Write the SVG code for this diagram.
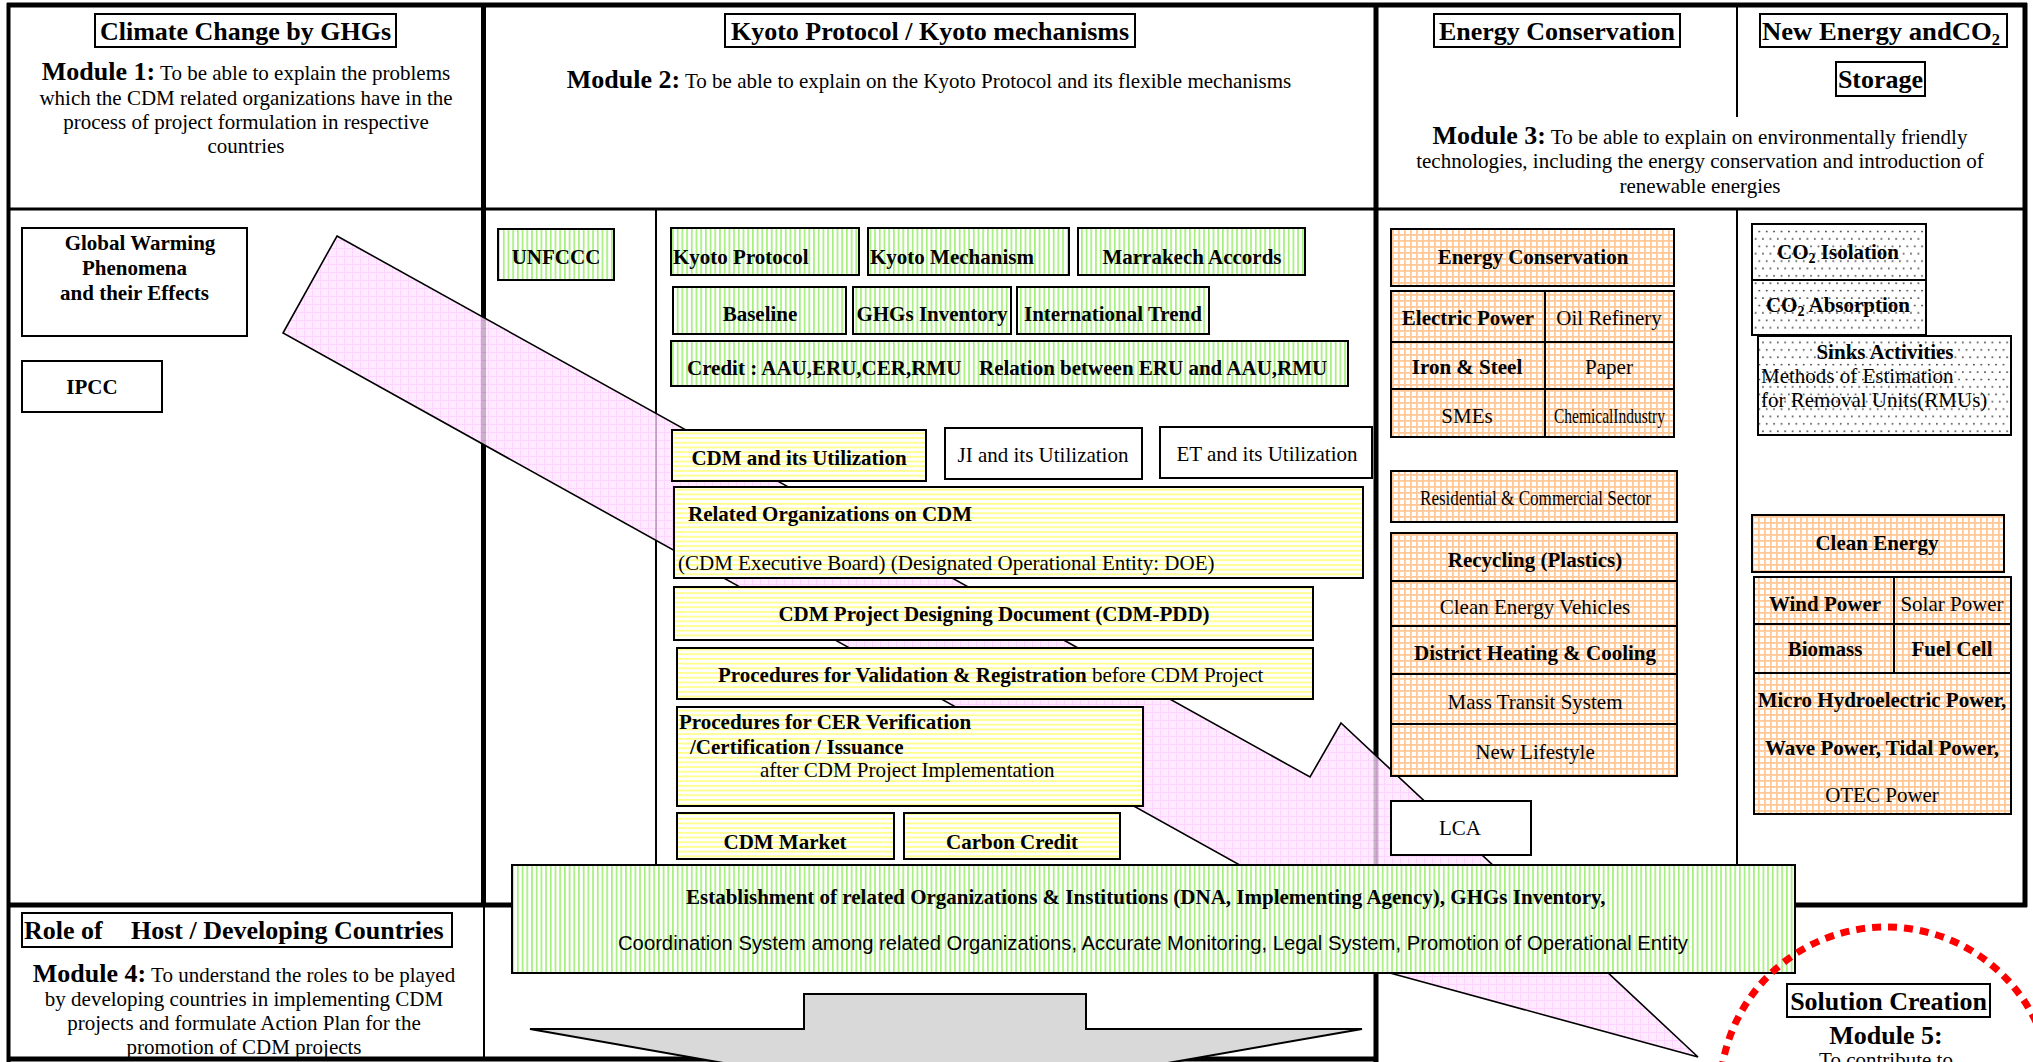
<svg xmlns="http://www.w3.org/2000/svg" width="2033" height="1062" viewBox="0 0 2033 1062">
<defs>
<style>
.b{font-family:"Liberation Serif",serif;font-weight:bold;font-size:21px;fill:#000}
.n{font-family:"Liberation Serif",serif;font-weight:normal;font-size:21px;fill:#000}
.t{font-family:"Liberation Serif",serif;font-weight:bold;font-size:26px;fill:#000}
.s{font-family:"Liberation Sans",sans-serif;font-weight:normal;font-size:20px;fill:#000}
.mid{text-anchor:middle}
.bx{stroke:#000;stroke-width:2}
.fr{stroke:#000;fill:none}
</style>
<pattern id="pGreen" width="4.7" height="10" patternUnits="userSpaceOnUse">
<rect width="4.7" height="10" fill="#fff"/>
<rect x="0" y="0" width="1.7" height="10" fill="#a4f07a"/>
</pattern>
<pattern id="pYellow" width="10" height="4.7" patternUnits="userSpaceOnUse">
<rect width="10" height="4.7" fill="#fff"/>
<rect x="0" y="0" width="10" height="1.8" fill="#ffff8c"/>
</pattern>
<pattern id="pOrange" width="6" height="6" patternUnits="userSpaceOnUse">
<rect width="6" height="6" fill="#ffc896"/>
<rect x="1.8" y="1.8" width="4.2" height="4.2" fill="#fff"/>
</pattern>
<pattern id="pPink" width="8" height="8" patternUnits="userSpaceOnUse">
<rect width="8" height="8" fill="#ffe4ff"/>
<path d="M0 0.5H8M0.5 0V8" stroke="#ffc6ff" stroke-width="1"/>
</pattern>
<pattern id="pDots" width="7.4" height="14.8" patternUnits="userSpaceOnUse">
<rect width="7.4" height="14.8" fill="#fff"/>
<circle cx="1.8" cy="2" r="0.85" fill="#222"/>
<circle cx="5.5" cy="9.4" r="0.85" fill="#222"/>
</pattern>
</defs>
<rect width="2033" height="1062" fill="#fff"/>

<g id="frame">
<line class="fr" x1="7" y1="5" x2="2027" y2="5" stroke-width="5"/>
<line class="fr" x1="8.5" y1="3" x2="8.5" y2="1062" stroke-width="4"/>
<line class="fr" x1="7" y1="1059" x2="1378" y2="1059" stroke-width="5"/>
<line class="fr" x1="483.5" y1="3" x2="483.5" y2="907" stroke-width="5"/>
<line class="fr" x1="484" y1="905" x2="484" y2="1060" stroke-width="2"/>
<line class="fr" x1="7" y1="905" x2="512" y2="905" stroke-width="5"/>
<line class="fr" x1="1376" y1="3" x2="1376" y2="1062" stroke-width="5"/>
<line class="fr" x1="2025" y1="3" x2="2025" y2="907" stroke-width="5"/>
<line class="fr" x1="1376" y1="905" x2="2027" y2="905" stroke-width="5"/>
<line class="fr" x1="7" y1="209" x2="2027" y2="209" stroke-width="3"/>
<line class="fr" x1="656" y1="209" x2="656" y2="865" stroke-width="2"/>
<line class="fr" x1="1737" y1="5" x2="1737" y2="117" stroke-width="2"/>
<line class="fr" x1="1737" y1="209" x2="1737" y2="905" stroke-width="2"/>
</g>

<g id="connectors">
<polygon id="pink-arrow" points="337,236 1310,777 1341,723 1698,1057 1225,928 1256,874 283,333" fill="url(#pPink)" fill-opacity="0.78" stroke="#000" stroke-width="1.6"/>
</g>

<g id="module1">
<rect x="95" y="14" width="301" height="33" fill="#fff" class="bx"/>
<text class="t mid" x="245.5" y="40">Climate Change by GHGs</text>
<text class="n mid" x="246" y="80"><tspan class="t">Module 1:</tspan> To be able to explain the problems</text>
<text class="n mid" x="246" y="105">which the CDM related organizations have in the</text>
<text class="n mid" x="246" y="129">process of project formulation in respective</text>
<text class="n mid" x="246" y="153">countries</text>
</g>

<g id="global-warming">
<rect x="22" y="228" width="225" height="108" fill="#fff" class="bx"/>
<text class="b mid" x="140" y="250">Global Warming</text>
<text class="b mid" x="134.5" y="275">Phenomena</text>
<text class="b mid" x="134.5" y="300">and their Effects</text>
</g>
<g id="ipcc">
<rect x="22" y="361" width="140" height="51" fill="#fff" class="bx"/>
<text class="b mid" x="92" y="394">IPCC</text>
</g>

<g id="module2">
<rect x="725" y="14" width="410" height="33" fill="#fff" class="bx"/>
<text class="t mid" x="930" y="40">Kyoto Protocol / Kyoto mechanisms</text>
<text class="n mid" x="929" y="88"><tspan class="t">Module 2:</tspan> To be able to explain on the Kyoto Protocol and its flexible mechanisms</text>
</g>

<g id="unfccc"><rect x="498" y="229" width="116" height="51" fill="url(#pGreen)" class="bx"/><text class="b mid" x="556" y="264">UNFCCC</text></g>
<g id="kyoto-protocol"><rect x="671" y="228" width="188" height="47" fill="url(#pGreen)" class="bx"/><text class="b" x="673" y="264">Kyoto Protocol</text></g>
<g id="kyoto-mechanism"><rect x="868" y="228" width="201" height="47" fill="url(#pGreen)" class="bx"/><text class="b" x="870" y="264">Kyoto Mechanism</text></g>
<g id="marrakech"><rect x="1078" y="228" width="227" height="47" fill="url(#pGreen)" class="bx"/><text class="b mid" x="1192" y="264">Marrakech Accords</text></g>
<g id="baseline"><rect x="673" y="287" width="173" height="47" fill="url(#pGreen)" class="bx"/><text class="b mid" x="760" y="321">Baseline</text></g>
<g id="ghgs-inventory"><rect x="853" y="287" width="158" height="47" fill="url(#pGreen)" class="bx"/><text class="b mid" x="932" y="321">GHGs Inventory</text></g>
<g id="international-trend"><rect x="1017" y="287" width="192" height="47" fill="url(#pGreen)" class="bx"/><text class="b mid" x="1113" y="321">International Trend</text></g>
<g id="credit"><rect x="671" y="341" width="677" height="45" fill="url(#pGreen)" class="bx"/><text class="b" y="375"><tspan x="687">Credit : AAU,ERU,CER,RMU</tspan><tspan x="979">Relation between ERU and AAU,RMU</tspan></text></g>

<g id="cdm-utilization"><rect x="672" y="430" width="254" height="51" fill="url(#pYellow)" class="bx"/><text class="b mid" x="799" y="465">CDM and its Utilization</text></g>
<g id="ji-utilization"><rect x="945" y="428" width="197" height="51" fill="#fff" class="bx"/><text class="n mid" x="1043" y="462">JI and its Utilization</text></g>
<g id="et-utilization"><rect x="1160" y="427" width="212" height="51" fill="#fff" class="bx"/><text class="n mid" x="1267" y="461">ET and its Utilization</text></g>
<g id="related-orgs"><rect x="674" y="487" width="689" height="91" fill="url(#pYellow)" class="bx"/>
<text class="b" x="688" y="521">Related Organizations on CDM</text>
<text class="n" x="678" y="570">(CDM Executive Board) (Designated Operational Entity: DOE)</text></g>
<g id="cdm-pdd"><rect x="674" y="587" width="639" height="53" fill="url(#pYellow)" class="bx"/><text class="b mid" x="994" y="621">CDM Project Designing Document (CDM-PDD)</text></g>
<g id="validation"><rect x="677" y="648" width="636" height="51" fill="url(#pYellow)" class="bx"/><text class="b" x="718" y="682">Procedures for Validation &amp; Registration<tspan class="n"> before CDM Project</tspan></text></g>
<g id="cer"><rect x="677" y="707" width="466" height="99" fill="url(#pYellow)" class="bx"/>
<text class="b" x="679" y="729">Procedures for CER Verification</text>
<text class="b" x="690" y="754">/Certification / Issuance</text>
<text class="n" x="760" y="777">after CDM Project Implementation</text></g>
<g id="cdm-market"><rect x="677" y="813" width="217" height="46" fill="url(#pYellow)" class="bx"/><text class="b mid" x="785" y="849">CDM Market</text></g>
<g id="carbon-credit"><rect x="904" y="813" width="216" height="46" fill="url(#pYellow)" class="bx"/><text class="b mid" x="1012" y="849">Carbon Credit</text></g>

<g id="module3">
<rect x="1434" y="14" width="246" height="33" fill="#fff" class="bx"/>
<text class="t mid" x="1557" y="40">Energy Conservation</text>
<rect x="1760" y="14" width="247" height="33" fill="#fff" class="bx"/>
<text class="t" x="1762" y="40" textLength="238" lengthAdjust="spacingAndGlyphs">New Energy andCO<tspan font-size="16" dy="5">2</tspan></text>
<rect x="1836" y="62" width="89" height="34" fill="#fff" class="bx"/>
<text class="t mid" x="1880.5" y="88">Storage</text>
<text class="n mid" x="1700" y="144"><tspan class="t">Module 3:</tspan> To be able to explain on environmentally friendly</text>
<text class="n mid" x="1700" y="168">technologies, including the energy conservation and introduction of</text>
<text class="n mid" x="1700" y="193">renewable energies</text>
</g>

<g id="energy-conservation"><rect x="1391" y="229" width="283" height="57" fill="url(#pOrange)" class="bx"/><text class="b mid" x="1533" y="264">Energy Conservation</text></g>
<g id="industry-grid">
<rect x="1391" y="291" width="283" height="146" fill="url(#pOrange)" class="bx"/>
<path d="M1545 291V437M1391 342H1674M1391 389H1674" class="fr" stroke-width="2"/>
<text class="b mid" x="1468" y="325">Electric Power</text>
<text class="n mid" x="1609" y="325">Oil Refinery</text>
<text class="b mid" x="1467" y="374">Iron &amp; Steel</text>
<text class="n mid" x="1609" y="374">Paper</text>
<text class="n mid" x="1467" y="423">SMEs</text>
<text class="n" x="1554" y="423" textLength="111" lengthAdjust="spacingAndGlyphs">ChemicalIndustry</text>
</g>
<g id="residential"><rect x="1391" y="471" width="286" height="51" fill="url(#pOrange)" class="bx"/><text class="n" x="1420" y="505" textLength="231" lengthAdjust="spacingAndGlyphs">Residential &amp; Commercial Sector</text></g>
<g id="demand-stack">
<rect x="1391" y="533" width="286" height="243" fill="url(#pOrange)" class="bx"/>
<path d="M1391 581H1677M1391 626H1677M1391 674H1677M1391 724H1677" class="fr" stroke-width="2"/>
<text class="b mid" x="1535" y="567">Recycling (Plastics)</text>
<text class="n mid" x="1535" y="614">Clean Energy Vehicles</text>
<text class="b mid" x="1535" y="660">District Heating &amp; Cooling</text>
<text class="n mid" x="1535" y="709">Mass Transit System</text>
<text class="n mid" x="1535" y="759">New Lifestyle</text>
</g>
<g id="lca"><rect x="1391" y="801" width="140" height="54" fill="#fff" class="bx"/><text class="n mid" x="1460" y="835">LCA</text></g>

<g id="co2-isolation"><rect x="1752" y="224" width="174" height="56" fill="url(#pDots)" class="bx"/><text class="b mid" x="1838" y="259">CO<tspan font-size="14" dy="4">2</tspan><tspan dy="-4"> Isolation</tspan></text></g>
<g id="co2-absorption"><rect x="1752" y="280" width="174" height="55" fill="url(#pDots)" class="bx"/><text class="b mid" x="1838" y="312">CO<tspan font-size="14" dy="4">2</tspan><tspan dy="-4"> Absorption</tspan></text></g>
<g id="sinks"><rect x="1758" y="336" width="253" height="99" fill="url(#pDots)" class="bx"/>
<text class="b mid" x="1885" y="359">Sinks Activities</text>
<text class="n" x="1761" y="383">Methods of Estimation</text>
<text class="n" x="1761" y="407">for Removal Units(RMUs)</text></g>
<g id="clean-energy"><rect x="1752" y="515" width="252" height="57" fill="url(#pOrange)" class="bx"/><text class="b mid" x="1877" y="550">Clean Energy</text></g>
<g id="renewables-grid">
<rect x="1754" y="577" width="257" height="237" fill="url(#pOrange)" class="bx"/>
<path d="M1894 577V673M1754 624H2011M1754 673H2011" class="fr" stroke-width="2"/>
<text class="b mid" x="1825" y="611">Wind Power</text>
<text class="n mid" x="1952" y="611">Solar Power</text>
<text class="b mid" x="1825" y="656">Biomass</text>
<text class="b mid" x="1952" y="656">Fuel Cell</text>
<text class="b mid" x="1882" y="707">Micro Hydroelectric Power,</text>
<text class="b mid" x="1882" y="755">Wave Power, Tidal Power,</text>
<text class="n mid" x="1882" y="802">OTEC Power</text>
</g>

<g id="establishment">
<rect x="512" y="865" width="1283" height="108" fill="url(#pGreen)" class="bx"/>
<text class="b" x="686" y="904">Establishment of related Organizations &amp; Institutions (DNA, Implementing Agency), GHGs Inventory,</text>
<text class="s" x="618" y="950" textLength="1070" lengthAdjust="spacingAndGlyphs">Coordination System among related Organizations, Accurate Monitoring, Legal System, Promotion of Operational Entity</text>
</g>

<g id="gray-arrow">
<polygon points="804,994 1086,994 1086,1029 1362,1029 945,1102 530,1029 804,1029" fill="#d9d9d9" stroke="#000" stroke-width="2"/>
</g>

<g id="module4">
<rect x="22" y="913" width="430" height="34" fill="#fff" class="bx"/>
<text class="t" y="939"><tspan x="24">Role of</tspan><tspan x="131">Host / Developing Countries</tspan></text>
<text class="n mid" x="244" y="982"><tspan class="t">Module 4:</tspan> To understand the roles to be played</text>
<text class="n mid" x="244" y="1006">by developing countries in implementing CDM</text>
<text class="n mid" x="244" y="1030">projects and formulate Action Plan for the</text>
<text class="n mid" x="244" y="1054">promotion of CDM projects</text>
</g>

<g id="module5">
<circle cx="1886" cy="1093" r="166" fill="none" stroke="#ff0000" stroke-width="7" stroke-dasharray="9 7"/>
<rect x="1787" y="984" width="203" height="33" fill="#fff" class="bx"/>
<text class="t mid" x="1888.5" y="1010">Solution Creation</text>
<text class="t mid" x="1886" y="1044">Module 5:</text>
<text class="n mid" x="1886" y="1067">To contribute to</text>
</g>
</svg>
